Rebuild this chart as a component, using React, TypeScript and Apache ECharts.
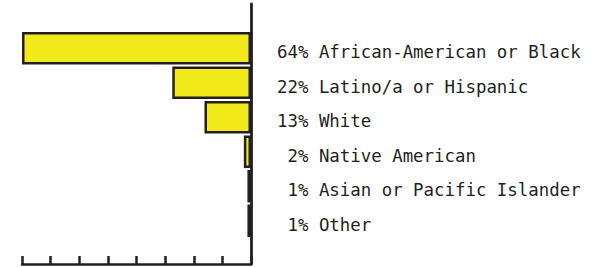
import React, { useEffect, useRef } from "react";
import * as echarts from "echarts";

const categories = [
  "African-American or Black",
  "Latino/a or Hispanic",
  "White",
  "Native American",
  "Asian or Pacific Islander",
  "Other",
];
const values = [64, 22, 13, 2, 1, 1];
const axisMax = 64;
const axisInterval = 8;

const INK = "#231f20";
const FONT = "DejaVu Sans Mono";

export default function App() {
  const ref = useRef<HTMLDivElement>(null);
  useEffect(() => {
    if (!ref.current) return;
    const chart = echarts.init(ref.current, undefined, { renderer: "svg" });
    chart.setOption({
      animation: false,
      grid: [
        { left: 22, right: 351, top: 31, bottom: 29 },
        { left: 22, right: 351, top: 4, bottom: 3 },
        { left: 22, right: 351, top: 35, bottom: 25 },
      ],
      xAxis: [
        { gridIndex: 0, type: "value", min: 0, max: axisMax, inverse: true, show: false },
        {
          gridIndex: 1,
          type: "value",
          min: 0,
          max: axisMax,
          interval: axisInterval,
          inverse: true,
          axisLine: { show: true, lineStyle: { color: INK, width: 2.5 } },
          axisTick: { show: true, inside: true, length: 8, lineStyle: { color: INK, width: 2.5 } },
          axisLabel: { show: false },
          splitLine: { show: false },
        },
        { gridIndex: 2, type: "value", min: 0, max: axisMax, inverse: true, show: false },
      ],
      yAxis: [
        {
          gridIndex: 0,
          type: "category",
          data: categories,
          inverse: true,
          position: "right",
          axisLine: { show: false },
          axisTick: { show: false },
          axisLabel: { show: false },
        },
        {
          gridIndex: 1,
          type: "value",
          position: "right",
          axisLine: { show: true, lineStyle: { color: INK, width: 2.8 } },
          axisTick: { show: false },
          axisLabel: { show: false },
          splitLine: { show: false },
        },
        {
          gridIndex: 2,
          type: "category",
          data: categories,
          inverse: true,
          position: "right",
          axisLine: { show: false },
          axisTick: { show: false },
          axisLabel: {
            margin: 26,
            align: "left",
            fontFamily: FONT,
            fontSize: 17.4,
            color: INK,
            formatter: (v: string, i: number) =>
              `${values[i] < 10 ? " " : ""}${values[i]}% ${v}`,
          },
        },
      ],
      series: [
        {
          type: "bar",
          xAxisIndex: 0,
          yAxisIndex: 0,
          data: values,
          barCategoryGap: "6%",
          itemStyle: { color: "#f2ea1a", borderColor: INK, borderWidth: 2.5 },
        },
      ],
    });
    return () => chart.dispose();
  }, []);
  return <div ref={ref} style={{ width: 602, height: 267, position: "absolute", left: 0, top: 0 }} />;
}
